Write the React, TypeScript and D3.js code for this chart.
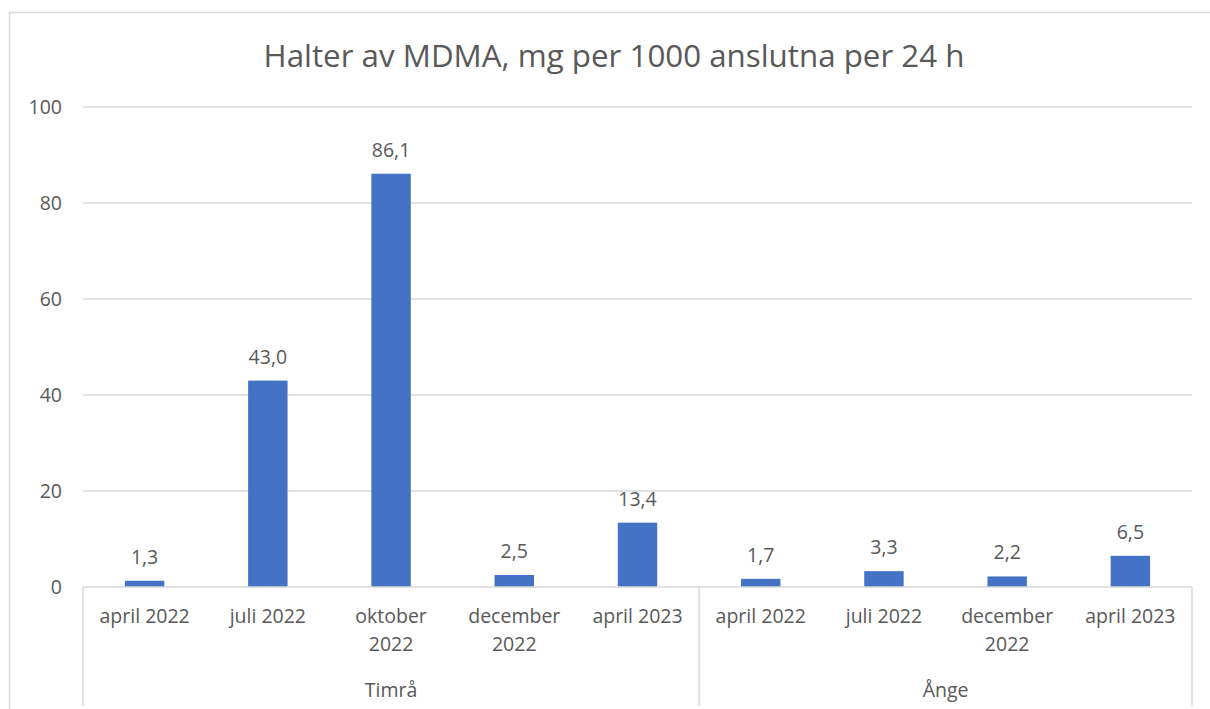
import React from "react";
import * as d3 from "d3";

const title = "Halter av MDMA, mg per 1000 anslutna per 24 h";
const groups = ["Timrå", "Ånge"];
const groupSizes = [5, 4];
const categories = [
  ["april 2022"],
  ["juli 2022"],
  ["oktober", "2022"],
  ["december", "2022"],
  ["april 2023"],
  ["april 2022"],
  ["juli 2022"],
  ["december", "2022"],
  ["april 2023"],
];
const values = [1.3, 43.0, 86.1, 2.5, 13.4, 1.7, 3.3, 2.2, 6.5];
const yTicks = [0, 20, 40, 60, 80, 100];

const W = 1210;
const H = 709;
const FONT = "'Open Sans', Lato, sans-serif";
const TXT = "#595959";
const GRID = "#d9d9d9";
const BAR = "#4472C4";
const FS = 19.5;

export default function App() {
  const left = 83;
  const right = 1192;
  const top = 107;
  const bottom = 587;
  const x = d3
    .scaleBand<number>()
    .domain(d3.range(values.length))
    .range([left, right])
    .paddingInner(0)
    .paddingOuter(0);
  const y = d3.scaleLinear().domain([0, 100]).range([bottom, top]);
  const bw = x.bandwidth() * 0.32;
  const fmt = (v: number) => d3.format(".1f")(v).replace(".", ",");

  const bounds: number[] = [0];
  groupSizes.forEach((s, i) => bounds.push(bounds[i] + s));

  return (
    <svg
      width={W}
      height={H}
      style={{ position: "absolute", left: 0, top: 0, background: "#fff" }}
      fontFamily={FONT}
    >
      <rect x={9.5} y={12.5} width={W + 10} height={H + 10} fill="#fff" stroke={GRID} strokeWidth={1.5} />
      <text x={614} y={67} textAnchor="middle" fontSize={31.3} fill={TXT}>
        {title}
      </text>
      {yTicks.map((t) => (
        <g key={t}>
          {t > 0 && (
            <line x1={left} x2={right} y1={y(t)} y2={y(t)} stroke={GRID} strokeWidth={1.5} />
          )}
          <text x={62} y={y(t)} dy="0.35em" textAnchor="end" fontSize={FS} fill={TXT}>
            {t}
          </text>
        </g>
      ))}
      {values.map((v, i) => {
        const cx = (x(i) as number) + x.bandwidth() / 2;
        return (
          <g key={i}>
            <rect x={cx - bw / 2} y={y(v)} width={bw} height={y(0) - y(v)} fill={BAR} />
            <text x={cx} y={y(v) - 17} textAnchor="middle" fontSize={FS} fill={TXT}>
              {fmt(v)}
            </text>
            {categories[i].map((ln, j) => (
              <text key={j} x={cx} y={623 + j * 28} textAnchor="middle" fontSize={FS} fill={TXT}>
                {ln}
              </text>
            ))}
          </g>
        );
      })}
      <line x1={left} x2={right} y1={bottom} y2={bottom} stroke={GRID} strokeWidth={1.5} />
      {bounds.map((b, i) => {
        const bx = b === values.length ? right : (x(b) as number);
        return <line key={i} x1={bx} x2={bx} y1={bottom} y2={706} stroke={GRID} strokeWidth={1.5} />;
      })}
      {groups.map((g, i) => {
        const x0 = x(bounds[i]) as number;
        const x1 = bounds[i + 1] === values.length ? right : (x(bounds[i + 1]) as number);
        return (
          <text key={g} x={(x0 + x1) / 2} y={697} textAnchor="middle" fontSize={FS} fill={TXT}>
            {g}
          </text>
        );
      })}
    </svg>
  );
}
